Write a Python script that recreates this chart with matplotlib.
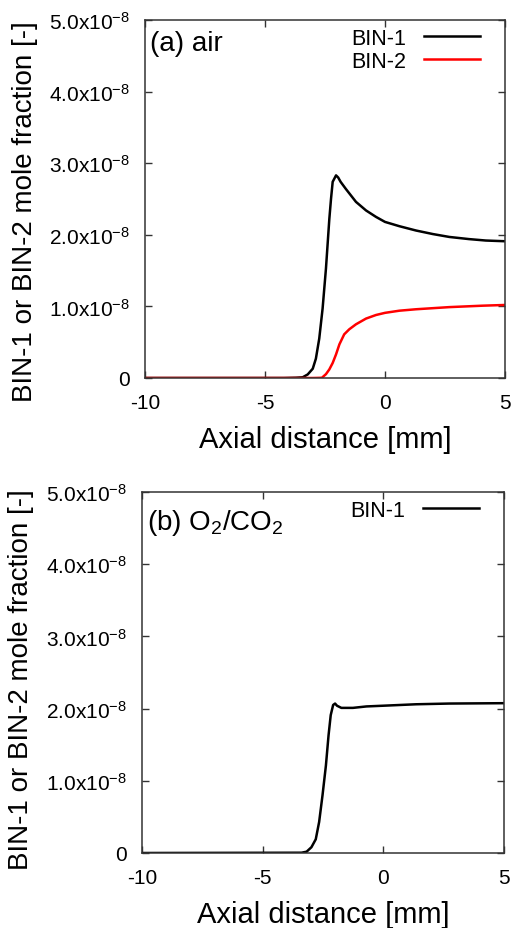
import matplotlib
matplotlib.use("Agg")
import matplotlib.pyplot as plt

plt.rcParams['font.family'] = ['Liberation Sans', 'DejaVu Sans']
plt.rcParams['mathtext.fontset'] = 'custom'
plt.rcParams['mathtext.rm'] = 'Liberation Sans'
plt.rcParams['mathtext.it'] = 'Liberation Sans'
plt.rcParams['mathtext.bf'] = 'Liberation Sans'

# ---- data (units of 1e-8 mole fraction) ----
a_bin1_x = [-10, -4.2, -3.71, -3.43, -3.22, -3.01, -2.88, -2.74, -2.60, -2.46, -2.32, -2.25,
            -2.18, -2.04, -1.95, -1.85, -1.63, -1.21, -0.79, -0.375, 0, 0.6, 1.29, 2.0,
            2.68, 3.5, 4.2, 5]
a_bin1_y = [0, 0, 0.004, 0.01, 0.05, 0.13, 0.27, 0.55, 0.97, 1.53, 2.22, 2.50,
            2.74, 2.83, 2.80, 2.74, 2.64, 2.46, 2.34, 2.25, 2.18, 2.12, 2.06, 2.01,
            1.97, 1.94, 1.92, 1.91]

a_bin2_x = [-10, -3.01, -2.63, -2.46, -2.32, -2.18, -2.04, -1.90, -1.70, -1.49, -1.21,
            -0.79, -0.375, 0, 0.60, 1.29, 2.68, 4.07, 5]
a_bin2_y = [0, 0, 0.003, 0.054, 0.12, 0.21, 0.33, 0.47, 0.61, 0.68, 0.75,
            0.83, 0.88, 0.91, 0.94, 0.96, 0.99, 1.01, 1.02]

b_bin1_x = [-10, -3.39, -3.18, -2.98, -2.80, -2.66, -2.52, -2.38, -2.27, -2.18, -2.08,
            -2.00, -1.92, -1.74, -1.26, -0.70, 0, 1.36, 2.74, 5]
b_bin1_y = [0, 0.004, 0.018, 0.08, 0.19, 0.43, 0.80, 1.21, 1.63, 1.91, 2.05,
            2.07, 2.04, 2.01, 2.01, 2.03, 2.04, 2.06, 2.07, 2.075]

xticks = [-10, -5, 0, 5]
xticklabels = ['-10', '-5', '0', '5']
yticks = [0, 1e-8, 2e-8, 3e-8, 4e-8, 5e-8]
yticklabels = ['0', r'$\mathregular{1.0x10^{-8}}$', r'$\mathregular{2.0x10^{-8}}$',
               r'$\mathregular{3.0x10^{-8}}$', r'$\mathregular{4.0x10^{-8}}$',
               r'$\mathregular{5.0x10^{-8}}$']
ylabel = 'BIN-1 or BIN-2 mole fraction [-]'
xlabel = 'Axial distance [mm]'

W, H = 513, 929
fig = plt.figure(figsize=(W / 100, H / 100), dpi=100)

def make_ax(l, t, r, b):
    return fig.add_axes([l / W, 1 - b / H, (r - l) / W, (b - t) / H])

axa = make_ax(145, 21, 505, 379)
axb = make_ax(142, 493, 504, 854)

def style(ax, ylab_y):
    ax.set_xlim(-10, 5)
    ax.set_ylim(0, 5e-8)
    ax.set_xticks(xticks)
    ax.set_xticklabels(xticklabels)
    ax.set_yticks(yticks)
    ax.set_yticklabels(yticklabels)
    ax.tick_params(direction='in', top=True, right=True, length=5, width=1,
                   labelsize=15, pad=11, color='#333333')
    for s in ax.spines.values():
        s.set_linewidth(1.1)
        s.set_color('#333333')
    ax.set_xlabel(xlabel, fontsize=21, labelpad=9)
    ax.set_ylabel(ylabel, fontsize=20)
    ax.yaxis.set_label_coords(-0.298, ylab_y)

s = 1e-8
axa.plot(a_bin1_x, [v * s for v in a_bin1_y], color='black', lw=1.8, label='BIN-1')
axa.plot(a_bin2_x, [v * s for v in a_bin2_y], color='#ff0000', lw=1.8, label='BIN-2')
axb.plot(b_bin1_x, [v * s for v in b_bin1_y], color='black', lw=1.8, label='BIN-1')

style(axa, 0.468)
style(axb, 0.484)
for ax in (axa, axb):
    ax.legend(loc='upper right', bbox_to_anchor=(0.93, 0.978), frameon=False,
              markerfirst=False, fontsize=15.5, handlelength=2.6, handletextpad=0.8,
              labelspacing=0.1, borderpad=0, borderaxespad=0)

axa.text(0.015, 0.935, '(a) air', transform=axa.transAxes, fontsize=20,
         ha='left', va='center')
axb.text(0.015, 0.918, r'(b) O$_\mathregular{2}$/CO$_\mathregular{2}$', transform=axb.transAxes,
         fontsize=20, ha='left', va='center')

fig.savefig('out.png', dpi=100)
